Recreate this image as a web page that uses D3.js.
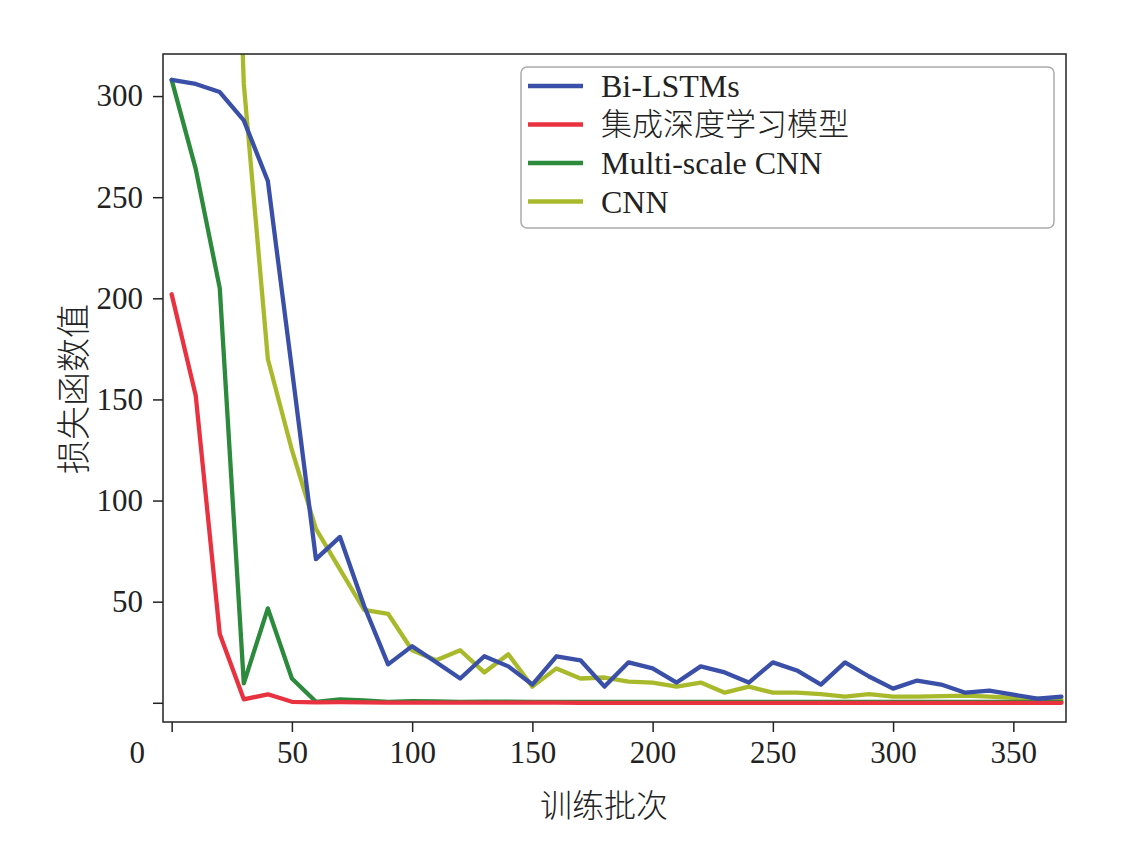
<!DOCTYPE html>
<html><head><meta charset="utf-8">
<script src="https://cdn.jsdelivr.net/npm/d3@7/dist/d3.min.js"></script>
<style>body{margin:0;background:#fff}svg{display:block}</style>
</head><body>
<svg id="c" width="1143" height="846"></svg>
<script>
const epochs = d3.range(0, 371, 10);
const biLstm = [308,306,302,288,258,165,71,82,48,19,28,20,12,23,18,9,23,21,8,20,17,10,18,15,10,20,16,9,20,13,7,11,9,5,6,4,2,3];
const ensemble = [202,152,34,1.7,4.2,0.5,0.2,0.3,0.2,0.1,0.1,0.1,0.1,0.1,0.1,0.1,0.1,0,0,0,0,0,0,0,0,0,0,0,0,0,0,0,0,0,0,0,0,0];
const multiCnn = [308,264,205,9.6,46.7,12,0.5,1.7,1.2,0.5,0.8,0.7,0.5,0.6,0.6,0.5,0.5,0.5,0.5,0.5,0.5,0.5,0.5,0.5,0.5,0.5,0.5,0.5,0.5,0.5,0.5,0.5,0.5,0.5,0.5,0.5,0.5,0.5];
const cnnEpochs = d3.range(20, 371, 10);
const cnn = [650,306,170,125,86,66,46,44,26,21,26,15,24,8,17,12,12.5,10.5,10,8,10,5,8,5,5,4.3,3,4.3,3,3,3.3,3.5,3,2.5,2,1.5];
const seriesNames = ["Bi-LSTMs","集成深度学习模型","Multi-scale CNN","CNN"];
const seriesColors = ["#3a4fa7","#e8323f","#2b8a3b","#a8ba2b"];
const xTicks = [0,50,100,150,200,250,300,350];
const yTicks = [0,50,100,150,200,250,300];
const xLabel = "训练批次", yLabel = "损失函数值";

const L=163,R=1066,T=54,B=722;
const svg=d3.select("#c");
const x=d3.scaleLinear().domain([-3.6,371.9]).range([L,R]);
const y=d3.scaleLinear().domain([-9.5,320.8]).range([B,T]);
const serif="'Liberation Serif','Times New Roman',serif";
const cjk="'Noto Sans CJK SC','Noto Sans CJK JP',sans-serif";

svg.append("clipPath").attr("id","clip").append("rect").attr("x",L).attr("y",T).attr("width",R-L).attr("height",B-T);

const data=[
  epochs.map((e,i)=>[e,biLstm[i]]),
  epochs.map((e,i)=>[e,ensemble[i]]),
  epochs.map((e,i)=>[e,multiCnn[i]]),
  cnnEpochs.map((e,i)=>[e,cnn[i]])
];
const line=d3.line().x(d=>x(d[0])).y(d=>y(d[1]));
const g=svg.append("g").attr("clip-path","url(#clip)");
[3,2,1,0].forEach(i=>{
  g.append("path").datum(data[i]).attr("d",line).attr("fill","none")
   .attr("stroke",seriesColors[i]).attr("stroke-width",4.3).attr("stroke-linejoin","round").attr("stroke-linecap","round");
});

const xa=svg.append("g").attr("transform",`translate(0,${B})`)
  .call(d3.axisBottom(x).tickValues(xTicks).tickSize(10).tickSizeOuter(0));
const ya=svg.append("g").attr("transform",`translate(${L},0)`)
  .call(d3.axisLeft(y).tickValues(yTicks).tickSize(10).tickPadding(10).tickSizeOuter(0).tickFormat(d=>d===0?"":d));
[xa,ya].forEach(a=>{a.select(".domain").remove();a.selectAll("line").attr("stroke","#222").attr("stroke-width",1.5);
  a.selectAll("text").attr("font-family",serif).attr("font-size",31).attr("fill","#222");});
xa.selectAll("text").attr("y",41).attr("dy",0);
xa.selectAll(".tick").filter(d=>d===0).select("text").attr("x",-35);

svg.append("rect").attr("x",L).attr("y",T).attr("width",R-L).attr("height",B-T)
  .attr("fill","none").attr("stroke","#222").attr("stroke-width",1.5);

svg.append("text").attr("x",604).attr("y",803).attr("text-anchor","middle").attr("dominant-baseline","central")
  .attr("font-family",cjk).attr("font-weight",300).attr("font-size",32).attr("fill","#222").text(xLabel);
svg.append("text").attr("transform","translate(71,389) rotate(-90)").attr("text-anchor","middle").attr("dominant-baseline","central")
  .attr("font-family",cjk).attr("font-weight",300).attr("font-size",34).attr("fill","#222").text(yLabel);

const lg=svg.append("g");
lg.append("rect").attr("x",521).attr("y",67).attr("width",533).attr("height",161).attr("rx",6)
  .attr("fill","#fff").attr("stroke","#aaa").attr("stroke-width",1.5);
seriesNames.forEach((n,i)=>{
  const cy=86+i*38.5;
  lg.append("line").attr("x1",528).attr("x2",583).attr("y1",cy).attr("y2",cy).attr("stroke",seriesColors[i]).attr("stroke-width",4.3);
  lg.append("text").attr("x",601).attr("y",cy+(i===1?10:11)).attr("font-family",i===1?cjk:serif).attr("font-weight",i===1?300:400)
    .attr("font-size",i===1?31:32).attr("fill","#222").text(n);
});
</script>
</body></html>
